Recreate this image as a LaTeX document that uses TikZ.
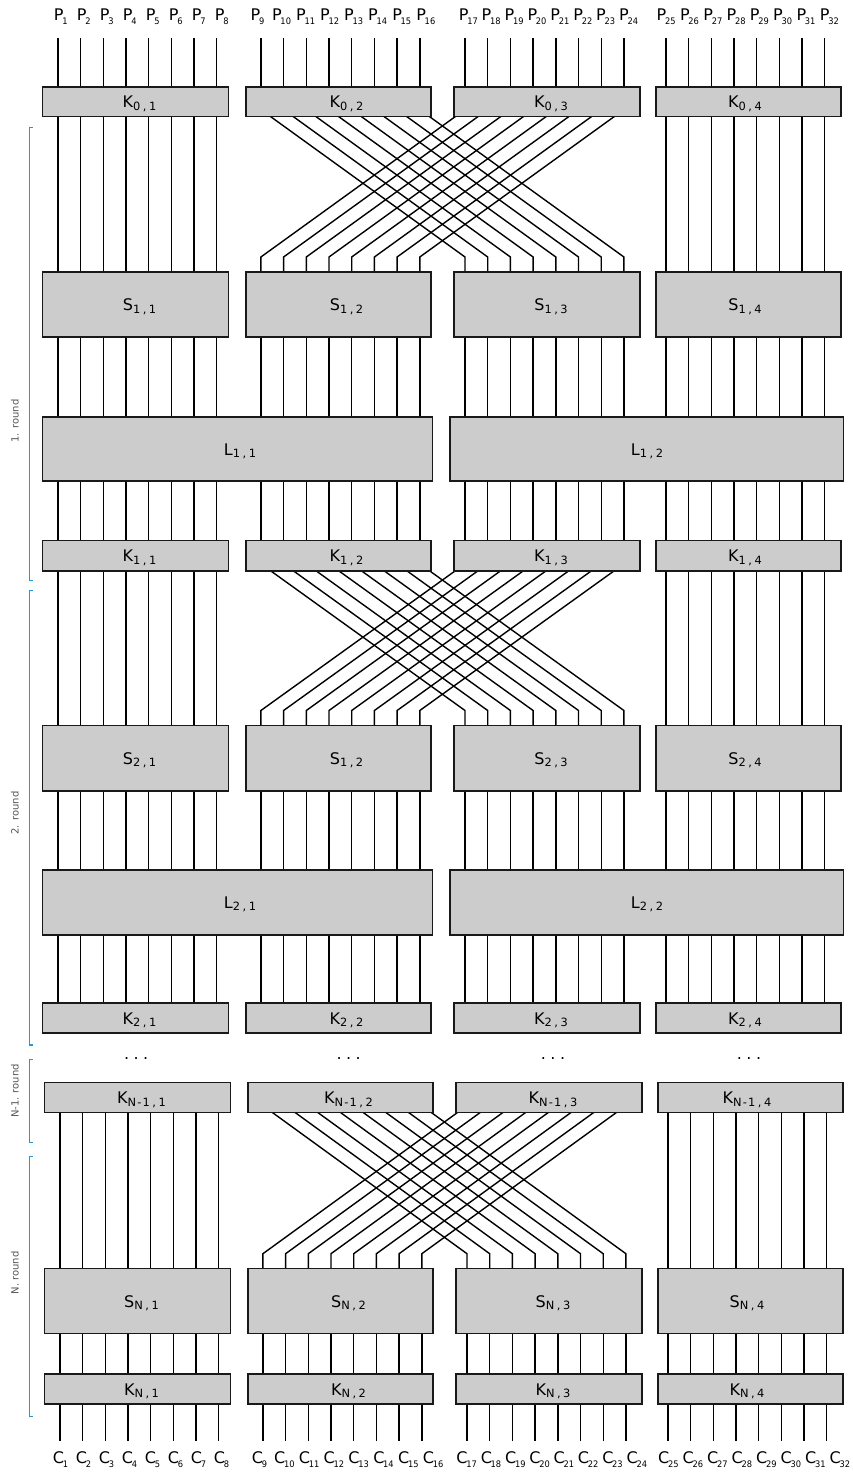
\documentclass[tikz,border=0pt]{standalone}
\usepackage{fontspec}
\setmainfont{DejaVu Sans}
\usetikzlibrary{backgrounds,calc}
\definecolor{boxfill}{RGB}{204,204,204}
\definecolor{boxline}{RGB}{25,25,25}
\definecolor{bracecol}{RGB}{30,155,215}
\definecolor{roundtxt}{RGB}{85,85,85}
\newcommand\plab[2]{{\fontsize{16}{16}\selectfont #1}\kern-1.2pt\raisebox{-4pt}{\fontsize{9}{9}\selectfont\scalebox{0.92}[1]{#2}}}
\newcommand\gp{\hspace{2.5pt}}
\newcommand\hs{\hspace{1.2pt}}
\newcommand\blab[2]{{\fontsize{16}{16}\selectfont #1}\raisebox{-2.7pt}{\fontsize{11.4}{11.4}\selectfont #2}}
\newcommand\mkbox[5]{%
  \pgfmathsetmacro\bw{#3-#2-1.6}\pgfmathsetmacro\bh{#5-#4-1.6}%
  \pgfmathsetmacro\bx{(#2+#3)/2}\pgfmathsetmacro\by{(#4+#5)/2}%
  \node[box,minimum width=\bw pt,minimum height=\bh pt] (#1) at (\bx,\by) {};}
\begin{document}
\begin{tikzpicture}[x=1pt,y=-1pt,
  box/.style={draw=boxline,fill=boxfill,line width=1.6pt,inner sep=0pt,outer sep=0pt},
  wire/.style={line width=1.4pt,black},
  blabel/.style={anchor=base,inner sep=0pt},
  iolabel/.style={anchor=base,inner sep=0pt},
  roundlabel/.style={rotate=90,text=roundtxt,font=\fontsize{10}{10}\selectfont,inner sep=0pt},
  bracket/.style={draw=bracecol,line width=1.3pt},
  dotlabel/.style={anchor=base,inner sep=0pt,font=\fontsize{16}{16}\selectfont}]
\useasboundingbox (0,0) rectangle (853,1475);

% wire columns
\foreach \g/\pb in {1/57.8,2/260.9,3/465,4/665.8}
  \foreach \i in {1,...,8} {
    \coordinate (w-\g-\i) at ({\pb+(\i-1)*22.7},0);
    \coordinate (v-\g-\i) at ({\pb+2+(\i-1)*22.7},0);
  }

% boxes
\foreach \g/\pl/\pr in {1/41.7/229.3,2/245/431.7,3/453.3/640.7,4/655/841.7} {
  \mkbox{K0-\g}{\pl}{\pr}{86}{117.3}
  \mkbox{S1-\g}{\pl}{\pr}{271}{338}
  \mkbox{K1-\g}{\pl}{\pr}{539.5}{571.5}
  \mkbox{S2-\g}{\pl}{\pr}{724.5}{791.5}
  \mkbox{K2-\g}{\pl}{\pr}{1002}{1034}
  \pgfmathsetmacro\ql{\pl+2}\pgfmathsetmacro\qr{\pr+2}
  \mkbox{KM-\g}{\ql}{\qr}{1081.7}{1113.3}
  \mkbox{SN-\g}{\ql}{\qr}{1267.7}{1334.3}
  \mkbox{KN-\g}{\ql}{\qr}{1373.3}{1405}
}
\mkbox{L1-1}{41.7}{433.3}{416}{482}
\mkbox{L1-2}{449}{844.3}{416}{482}
\mkbox{L2-1}{41.7}{433.3}{869}{935.5}
\mkbox{L2-2}{449}{844.3}{869}{935.5}

% wires
\begin{pgfonlayer}{background}
\foreach \g in {1,...,4} {
  \pgfmathtruncatemacro\h{int((\g+1)/2)}
  \foreach \i in {1,...,8} {
    \draw[wire] ($(w-\g-\i)+(0,38.3)$) -- (w-\g-\i |- K0-\g.north);
    \draw[wire] (w-\g-\i |- S1-\g.south) -- (w-\g-\i |- L1-\h.north);
    \draw[wire] (w-\g-\i |- L1-\h.south) -- (w-\g-\i |- K1-\g.north);
    \draw[wire] (w-\g-\i |- S2-\g.south) -- (w-\g-\i |- L2-\h.north);
    \draw[wire] (w-\g-\i |- L2-\h.south) -- (w-\g-\i |- K2-\g.north);
    \draw[wire] (v-\g-\i |- SN-\g.south) -- (v-\g-\i |- KN-\g.north);
    \draw[wire] (v-\g-\i |- KN-\g.south) -- ($(v-\g-\i)+(0,1440.7)$);
  }
}
\foreach \g in {1,4}
  \foreach \i in {1,...,8} {
    \draw[wire] (w-\g-\i |- K0-\g.south) -- (w-\g-\i |- S1-\g.north);
    \draw[wire] (w-\g-\i |- K1-\g.south) -- (w-\g-\i |- S2-\g.north);
    \draw[wire] (v-\g-\i |- KM-\g.south) -- (v-\g-\i |- SN-\g.north);
  }
\foreach \i in {1,...,8} {
  \draw[wire] ($(w-2-\i)+(0,109.6)$) -- ($(w-3-\i)+(0,257)$) -- (w-3-\i |- S1-3.north);
  \draw[wire] ($(w-3-\i)+(0,109.6)$) -- ($(w-2-\i)+(0,257)$) -- (w-2-\i |- S1-2.north);
  \draw[wire] ($(w-2-\i)+(0,563.8)$) -- ($(w-3-\i)+(0,710.5)$) -- (w-3-\i |- S2-3.north);
  \draw[wire] ($(w-3-\i)+(0,563.8)$) -- ($(w-2-\i)+(0,710.5)$) -- (w-2-\i |- S2-2.north);
  \draw[wire] ($(v-2-\i)+(0,1105.6)$) -- ($(v-3-\i)+(0,1253.7)$) -- (v-3-\i |- SN-3.north);
  \draw[wire] ($(v-3-\i)+(0,1105.6)$) -- ($(v-2-\i)+(0,1253.7)$) -- (v-2-\i |- SN-2.north);
}
\end{pgfonlayer}

% input / output labels
\foreach \g/\pa/\pd/\po in {1/60.8/23.0/0,2/257.5/24.04/8,3/468.3/22.9/16,4/666.2/23.3/24}
  \foreach \i in {1,...,8} {
    \pgfmathtruncatemacro\k{\po+\i}
    \node[iolabel] (P\k) at ({\pa+(\i-1)*\pd},20) {\plab{P}{\k}};
  }
\foreach \g/\pa/\pd/\po in {1/60.5/23.0/0,2/259.5/24.8/8,3/466.7/24.3/16,4/668.3/24.5/24}
  \foreach \i in {1,...,8} {
    \pgfmathtruncatemacro\k{\po+\i}
    \node[iolabel] (C\k) at ({\pa+(\i-1)*\pd},1463.3) {\plab{C}{\k}};
  }

% box labels
\foreach \g/\pa in {1/139.5,2/346.5,3/551,4/745} {
  \pgfmathsetmacro\pb{\pa+2}
  \node[blabel] (tK0-\g) at (\pa,107.65) {\blab{K}{0\gp,\gp\g}};
  \node[blabel] (tS1-\g) at (\pa,310.5) {\blab{S}{1\gp,\gp\g}};
  \node[blabel] (tK1-\g) at (\pa,561.5) {\blab{K}{1\gp,\gp\g}};
  \node[blabel] (tK2-\g) at (\pa,1024) {\blab{K}{2\gp,\gp\g}};
  \node[blabel] (tKM-\g) at (\pb,1103.5) {\blab{K}{N\hs-\hs1\gp,\gp\g}};
  \node[blabel] (tSN-\g) at (\pb,1307) {\blab{S}{N\gp,\gp\g}};
  \node[blabel] (tKN-\g) at (\pb,1395.2) {\blab{K}{N\gp,\gp\g}};
}
\node[blabel] (tS2-1) at (139.5,764) {\blab{S}{2\gp,\gp1}};
\node[blabel] (tS2-2) at (346.5,764) {\blab{S}{1\gp,\gp2}};
\node[blabel] (tS2-3) at (551,764) {\blab{S}{2\gp,\gp3}};
\node[blabel] (tS2-4) at (745,764) {\blab{S}{2\gp,\gp4}};
\node[blabel] (tL1-1) at (240,455) {\blab{L}{1\gp,\gp1}};
\node[blabel] (tL1-2) at (647,455) {\blab{L}{1\gp,\gp2}};
\node[blabel] (tL2-1) at (240,908) {\blab{L}{2\gp,\gp1}};
\node[blabel] (tL2-2) at (647,908) {\blab{L}{2\gp,\gp2}};

% dots
\foreach \pa [count=\j] in {136.2,348.7,553,749}
  \node[dotlabel] (dots\j) at (\pa,1059.5) {.\hspace{4.5pt}.\hspace{4.5pt}.};

% round brackets
\draw[bracket] (32.5,127.3) -- (29.3,127.3) -- (29.3,580.7) -- (32.5,580.7);
\draw[bracket] (32.5,590.7) -- (29.3,590.7) -- (29.3,1045) -- (32.5,1045);
\draw[bracket] (32.5,1059.3) -- (29.3,1059.3) -- (29.3,1142.3) -- (32.5,1142.3);
\draw[bracket] (32.5,1156.7) -- (29.3,1156.7) -- (29.3,1416.7) -- (32.5,1416.7);
\node[roundlabel] (r1) at (15,421) {1. round};
\node[roundlabel] (r2) at (15,813) {2. round};
\node[roundlabel] (r3) at (15,1091) {N-1. round};
\node[roundlabel] (r4) at (15,1273) {N. round};
\end{tikzpicture}
\end{document}
